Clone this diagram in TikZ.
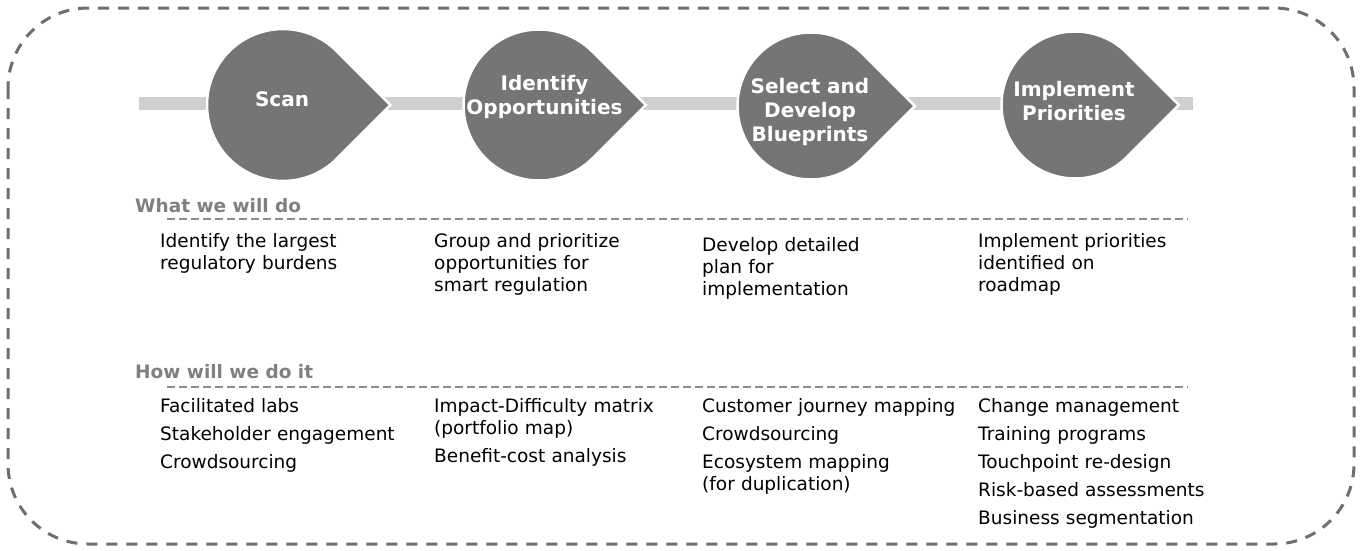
\documentclass[tikz,border=0pt]{standalone}
\usepackage{fontspec}
\setmainfont{DejaVu Sans}
\usepackage{tikz}
\usetikzlibrary{positioning}
\definecolor{dropgray}{HTML}{757575}
\definecolor{bargray}{HTML}{CFCFCF}
\definecolor{headgray}{HTML}{808080}
\definecolor{linegray}{HTML}{8C8C8C}
\definecolor{framegray}{HTML}{6E6E6E}
\tikzstyle{drop}=[fill=dropgray,draw=white,line width=2.5pt]
\tikzstyle{steplabel}=[text=white,font=\fontsize{20}{24}\selectfont\bfseries,align=center,text width=180pt,inner sep=0pt,anchor=base]
\tikzstyle{heading}=[text=headgray,font=\fontsize{18.5}{22}\selectfont\bfseries,inner sep=0pt,anchor=base west]
\tikzstyle{item}=[text=black,font=\fontsize{18.5}{22}\selectfont,align=left,text width=272pt,inner sep=0pt,anchor=base west]
\tikzstyle{bar}=[bargray,line width=13pt]
\tikzstyle{sepline}=[linegray,line width=2pt,dash pattern=on 8pt off 4pt]
\tikzstyle{frame}=[framegray,line width=3pt,dash pattern=on 11pt off 9pt,rounded corners=80pt]

\begin{document}
\begin{tikzpicture}[x=1pt,y=-1pt]
	\useasboundingbox (0,0) rectangle (1361,550);
	\draw[frame] (8,8) rectangle (1354,544);
	% process bar
	\coordinate (barL) at (139,103.5);
	\coordinate (barR) at (1193,103.5);
	\draw[bar] (barL) -- (barR);
	% drops
	\filldraw[drop] (283,105) ++(45:76) -- ++(-45:76) -- ++(-135:76) arc[start angle=-45,end angle=-315,radius=76] -- cycle;
	\filldraw[drop] (539,105) ++(45:75.5) -- ++(-45:75.5) -- ++(-135:75.5) arc[start angle=-45,end angle=-315,radius=75.5] -- cycle;
	\filldraw[drop] (811,106) ++(45:73.5) -- ++(-45:73.5) -- ++(-135:73.5) arc[start angle=-45,end angle=-315,radius=73.5] -- cycle;
	\filldraw[drop] (1075,105) ++(45:73.5) -- ++(-45:73.5) -- ++(-135:73.5) arc[start angle=-45,end angle=-315,radius=73.5] -- cycle;
	\node[steplabel] (scan) at (282,106) {Scan};
	\node[steplabel] (ident) at (544.5,90) {Identify\\Opportunities};
	\node[steplabel] (select) at (810,93) {Select and\\Develop\\Blueprints};
	\node[steplabel] (impl) at (1074,96) {Implement\\Priorities};
	% what we will do
	\node[heading] (what) at (135,212) {What we will do};
	\coordinate (whatL) at (167,219);
	\coordinate (whatR) at (1188,219);
	\draw[sepline] (whatL) -- (whatR);
	\node[item] (w1) at (160,247) {Identify the largest\\regulatory burdens};
	\node[item] (w2) at (434,247) {Group and prioritize\\opportunities for\\smart regulation};
	\node[item] (w3) at (702,251) {Develop detailed\\plan for\\implementation};
	\node[item] (w4) at (978,247) {Implement priorities\\identified on\\roadmap};
	% how will we do it
	\node[heading] (how) at (135,378) {How will we do it};
	\coordinate (howL) at (167,387);
	\coordinate (howR) at (1188,387);
	\draw[sepline] (howL) -- (howR);
	\node[item] (h1) at (160,412) {Facilitated labs\\[6pt]Stakeholder engagement\\[6pt]Crowdsourcing};
	\node[item] (h2) at (434,412) {Impact-Difficulty matrix\\(portfolio map)\\[6pt]Benefit-cost analysis};
	\node[item] (h3) at (702,412) {Customer journey mapping\\[6pt]Crowdsourcing\\[6pt]Ecosystem mapping\\(for duplication)};
	\node[item] (h4) at (978,412) {Change management\\[6pt]Training programs\\[6pt]Touchpoint re-design\\[6pt]Risk-based assessments\\[6pt]Business segmentation};
\end{tikzpicture}
\end{document}
